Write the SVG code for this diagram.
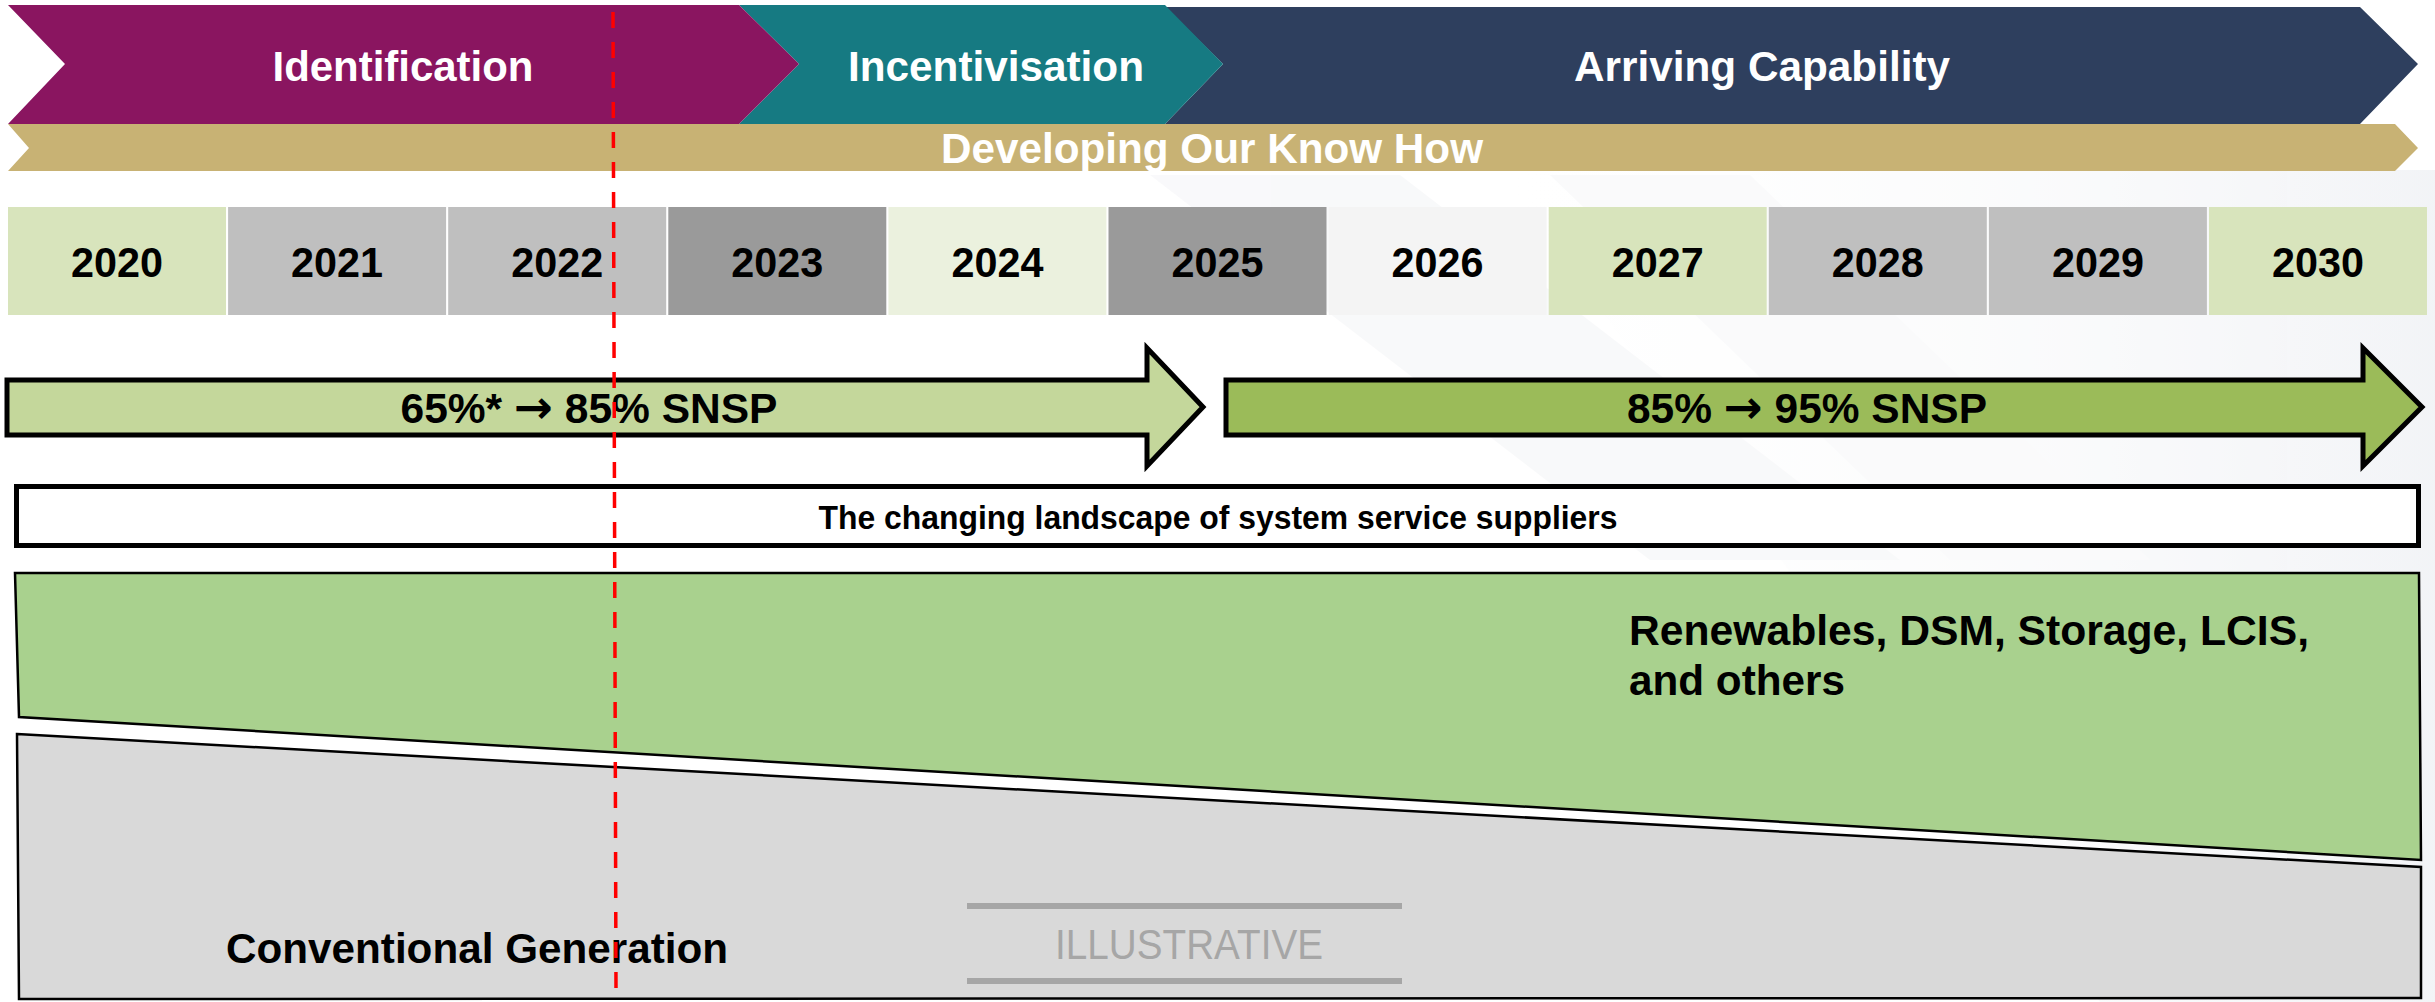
<svg xmlns="http://www.w3.org/2000/svg" width="2435" height="1002" viewBox="0 0 2435 1002">
  <style>
    .t { font-family: "Liberation Sans", Arial, sans-serif; font-weight: bold; }
    .wt { fill: #ffffff; font-size: 42px; }
    .yr { fill: #000000; font-size: 42px; text-anchor: middle; }
    .bk { fill: #000000; }
    .ar { font-family: "DejaVu Sans", sans-serif; font-weight: bold; font-size: 46px; }
    .cell { stroke: none; }
    .arrow { stroke: #000000; stroke-width: 5; stroke-linejoin: miter; }
    .band { stroke: #000000; stroke-width: 2.5; stroke-linejoin: miter; }
  </style>
  <defs>
    <linearGradient id="bgR" x1="0" y1="0" x2="1" y2="0">
      <stop offset="0" stop-color="#ffffff" stop-opacity="0"/>
      <stop offset="1" stop-color="#dfe3ea" stop-opacity="1"/>
    </linearGradient>
  </defs>

  <!-- background -->
  <rect x="0" y="0" width="2435" height="1002" fill="#ffffff"/>
  <g id="background" opacity="0.4">
    <polygon points="1500,170 2435,170 2435,1002 2100,1002" fill="url(#bgR)"/>
    <polygon points="1150,175 1400,175 1900,560 1650,560" fill="#f0f1f4"/>
    <polygon points="1550,175 1750,175 2150,560 1950,560" fill="#f4f5f7"/>
  </g>

  <!-- top phase chevrons -->
  <g id="phase-arriving">
    <polygon points="1165,7 2360,7 2418,64 2360,124 1165,124 1223,64" fill="#2e3f5e"/>
    <text class="t wt" x="1762" y="81" text-anchor="middle" textLength="376" lengthAdjust="spacingAndGlyphs">Arriving Capability</text>
  </g>
  <g id="phase-incentivisation">
    <polygon points="739,5 1165,5 1223,64 1165,124 739,124 799,64" fill="#167a82"/>
    <text class="t wt" x="996" y="81" text-anchor="middle" textLength="296" lengthAdjust="spacingAndGlyphs">Incentivisation</text>
  </g>
  <g id="phase-identification">
    <polygon points="8,5 739,5 799,64 739,124 8,124 65,64" fill="#8a1560"/>
    <text class="t wt" x="403" y="81" text-anchor="middle" textLength="261" lengthAdjust="spacingAndGlyphs">Identification</text>
  </g>
  <g id="know-how">
    <polygon points="8,124 2395,124 2418,148 2395,171 8,171 29,148" fill="#c8b274"/>
    <text class="t wt" x="1212" y="163" text-anchor="middle" textLength="542" lengthAdjust="spacingAndGlyphs">Developing Our Know How</text>
  </g>

  <!-- years -->
  <g id="year-2020"><rect class="cell" x="8" y="207" width="218" height="108" fill="#d8e4bc"/><text class="t yr" x="117" y="277" textLength="92" lengthAdjust="spacingAndGlyphs">2020</text></g>
  <g id="year-2021"><rect class="cell" x="228.1" y="207" width="218" height="108" fill="#bfbfbf"/><text class="t yr" x="337.1" y="277" textLength="92" lengthAdjust="spacingAndGlyphs">2021</text></g>
  <g id="year-2022"><rect class="cell" x="448.2" y="207" width="218" height="108" fill="#bfbfbf"/><text class="t yr" x="557.2" y="277" textLength="92" lengthAdjust="spacingAndGlyphs">2022</text></g>
  <g id="year-2023"><rect class="cell" x="668.3" y="207" width="218" height="108" fill="#9a9a9a"/><text class="t yr" x="777.3" y="277" textLength="92" lengthAdjust="spacingAndGlyphs">2023</text></g>
  <g id="year-2024"><rect class="cell" x="888.4" y="207" width="218" height="108" fill="#ebf1de"/><text class="t yr" x="997.4" y="277" textLength="92" lengthAdjust="spacingAndGlyphs">2024</text></g>
  <g id="year-2025"><rect class="cell" x="1108.5" y="207" width="218" height="108" fill="#9a9a9a"/><text class="t yr" x="1217.5" y="277" textLength="92" lengthAdjust="spacingAndGlyphs">2025</text></g>
  <g id="year-2026"><rect class="cell" x="1328.6" y="207" width="218" height="108" fill="#f4f4f4"/><text class="t yr" x="1437.6" y="277" textLength="92" lengthAdjust="spacingAndGlyphs">2026</text></g>
  <g id="year-2027"><rect class="cell" x="1548.7" y="207" width="218" height="108" fill="#d8e4bc"/><text class="t yr" x="1657.7" y="277" textLength="92" lengthAdjust="spacingAndGlyphs">2027</text></g>
  <g id="year-2028"><rect class="cell" x="1768.8" y="207" width="218" height="108" fill="#bfbfbf"/><text class="t yr" x="1877.8" y="277" textLength="92" lengthAdjust="spacingAndGlyphs">2028</text></g>
  <g id="year-2029"><rect class="cell" x="1988.9" y="207" width="218" height="108" fill="#bfbfbf"/><text class="t yr" x="2097.9" y="277" textLength="92" lengthAdjust="spacingAndGlyphs">2029</text></g>
  <g id="year-2030"><rect class="cell" x="2209" y="207" width="218" height="108" fill="#d8e4bc"/><text class="t yr" x="2318" y="277" textLength="92" lengthAdjust="spacingAndGlyphs">2030</text></g>

  <!-- SNSP arrows -->
  <g id="snsp-65-85">
    <polygon class="arrow" points="7,380 1147,380 1147,348 1203,407 1147,466 1147,435 7,435" fill="#c4d79b"/>
    <text class="t bk" x="589" y="423" font-size="42" text-anchor="middle" textLength="377" lengthAdjust="spacingAndGlyphs">65%* <tspan class="ar">→</tspan> 85% SNSP</text>
  </g>
  <g id="snsp-85-95">
    <polygon class="arrow" points="1226,380 2363,380 2363,348 2422,407 2363,466 2363,435 1226,435" fill="#9bbb59"/>
    <text class="t bk" x="1807" y="423" font-size="42" text-anchor="middle" textLength="360" lengthAdjust="spacingAndGlyphs">85% <tspan class="ar">→</tspan> 95% SNSP</text>
  </g>

  <!-- landscape box -->
  <g id="landscape-title">
    <rect x="16.5" y="486.5" width="2402" height="59" fill="#ffffff" stroke="#000000" stroke-width="5"/>
    <text class="t bk" x="1218" y="529" font-size="33" text-anchor="middle" textLength="799" lengthAdjust="spacingAndGlyphs">The changing landscape of system service suppliers</text>
  </g>

  <!-- supplier bands -->
  <g id="renewables">
    <polygon class="band" points="15,573 2419,573 2421,860 19,717" fill="#a9d18e"/>
    <text class="t bk" x="1629" y="645" font-size="42" textLength="680" lengthAdjust="spacingAndGlyphs">Renewables, DSM, Storage, LCIS,</text>
    <text class="t bk" x="1629" y="695" font-size="42" textLength="216" lengthAdjust="spacingAndGlyphs">and others</text>
  </g>
  <g id="conventional">
    <polygon class="band" points="17,734 2421,867 2421,998 19,999" fill="#d9d9d9"/>
    <text class="t bk" x="226" y="963" font-size="42" textLength="502" lengthAdjust="spacingAndGlyphs">Conventional Generation</text>
  </g>

  <!-- illustrative stamp -->
  <g id="illustrative">
    <line x1="967" y1="906" x2="1402" y2="906" stroke="#a6a6a6" stroke-width="6"/>
    <line x1="967" y1="981" x2="1402" y2="981" stroke="#a6a6a6" stroke-width="6"/>
    <text x="1055" y="959" font-family="Liberation Sans, Arial, sans-serif" font-size="43" fill="#a6a6a6" textLength="268" lengthAdjust="spacingAndGlyphs">ILLUSTRATIVE</text>
  </g>

  <!-- today marker -->
  <g id="connectors">
    <line x1="613" y1="12" x2="616" y2="990" stroke="#ff0000" stroke-width="3.5" stroke-dasharray="16 14"/>
  </g>
</svg>
